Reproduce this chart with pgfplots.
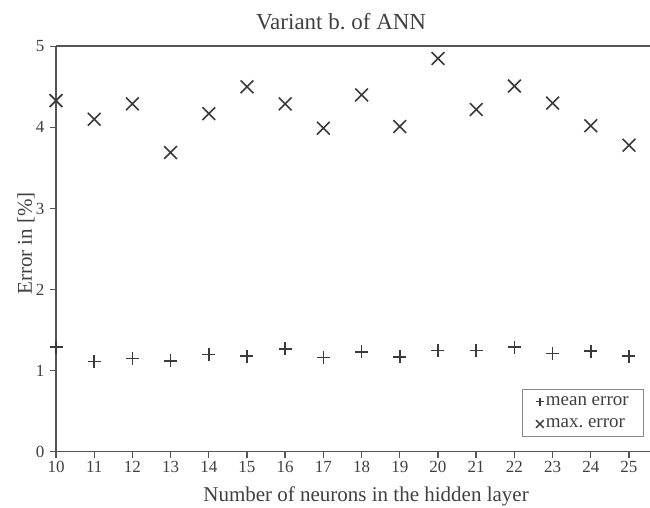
\documentclass[border=0pt]{standalone}
\usepackage{fontspec}
\setmainfont{Liberation Serif}
\usepackage{pgfplots}
\pgfplotsset{compat=1.18}
\definecolor{ink}{HTML}{3A3A3A}
\definecolor{axisgray}{HTML}{555555}
\definecolor{txt}{HTML}{404040}
\definecolor{legframe}{HTML}{8A8A8A}
\begin{document}
\begin{tikzpicture}
\begin{axis}[
  at={(56pt,56.3pt)}, anchor=south west,
  scale only axis, width=594pt, height=405.4pt,
  xmin=10, xmax=25.55, ymin=0, ymax=5,
  clip=false,
  axis x line=box, axis y line=left,
  axis line style={-, line width=1.6pt, draw=axisgray},
  y axis line style={-},
  xtick pos=lower, ytick pos=left,
  xtick={10,...,25}, ytick={0,...,5},
  tick align=outside, major tick length=6pt,
  tick style={line width=1.4pt, draw=axisgray},
  /pgf/number format/assume math mode=true,
  tick label style={font=\fontsize{17}{20}\selectfont, text=txt},
  yticklabel style={xshift=-2pt},
  title={Variant b.\ of ANN},
  title style={at={(axis description cs:0.48,1)}, anchor=base, yshift=10.7pt,
    font=\fontsize{23}{26}\selectfont, text=txt},
  xlabel={Number of neurons in the hidden layer},
  xlabel style={at={(axis description cs:0.522,0)}, anchor=base, yshift=-50.3pt,
    font=\fontsize{21}{24}\selectfont, text=txt},
  ylabel={Error in [\%]},
  ylabel style={at={(axis description cs:-0.0404,0.514)}, anchor=base, rotate=0,
    font=\fontsize{21}{24}\selectfont, text=txt},
  legend style={at={(axis description cs:0.99,0.037)}, anchor=south east,
    draw=legframe, line width=0.8pt, font=\fontsize{19}{21}\selectfont, text=txt,
    inner xsep=13pt, inner ysep=5pt, row sep=8pt,
    cells={anchor=west}},
  legend image code/.code={\draw[#1] plot coordinates {(0.15cm,0cm)};},
]
\addplot[only marks, mark=+, mark size=6.5pt, draw=ink, line width=1.6pt,
  legend image post style={mark size=4pt, line width=1.4pt}]
  coordinates {(10,1.29) (11,1.11) (12,1.15) (13,1.12) (14,1.20) (15,1.18)
  (16,1.27) (17,1.16) (18,1.23) (19,1.17) (20,1.25) (21,1.25) (22,1.29)
  (23,1.21) (24,1.24) (25,1.18)};
\addlegendentry{mean error}
\addplot[only marks, mark=x, mark size=9pt, draw=ink, line width=1.6pt,
  legend image post style={mark size=5.5pt, line width=1.4pt}]
  coordinates {(10,4.33) (11,4.10) (12,4.29) (13,3.69) (14,4.17) (15,4.50)
  (16,4.29) (17,3.99) (18,4.40) (19,4.01) (20,4.85) (21,4.22) (22,4.51)
  (23,4.30) (24,4.02) (25,3.78)};
\addlegendentry{max.\ error}
\end{axis}
\pgfresetboundingbox
\path[use as bounding box] (0,0) rectangle (650pt,508pt);
\end{tikzpicture}
\end{document}
